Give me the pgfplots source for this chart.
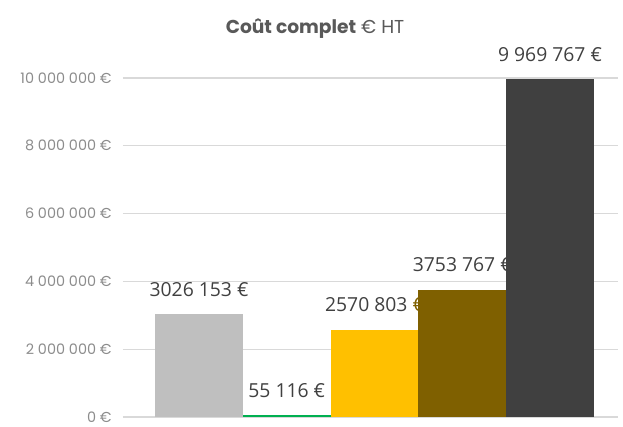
\documentclass[border=0pt]{standalone}
\usepackage{pgfplots}
\pgfplotsset{compat=1.18}
\usepackage{fontspec}
\setmainfont{Open Sans}
\newfontfamily\tickfont{Poppins}
\definecolor{cgray}{HTML}{BFBFBF}
\definecolor{cgreen}{HTML}{00B050}
\definecolor{cyellow}{HTML}{FFC000}
\definecolor{cbrown}{HTML}{7F6000}
\definecolor{cdark}{HTML}{404040}
\definecolor{gridc}{HTML}{D9D9D9}
\definecolor{tickc}{HTML}{8C8C8C}
\definecolor{titlec}{HTML}{595959}
\begin{document}
\begin{tikzpicture}
\begin{axis}[
    scale only axis,
    width=371.25pt,
    height=254.25pt,
    ybar,
    bar width=1,
    bar shift=0pt,
    xmin=-0.866, xmax=4.775,
    ymin=0, ymax=10000000,
    xtick=\empty,
    ytick={0,2000000,4000000,6000000,8000000,10000000},
    yticklabels={0 €,2 000 000 €,4 000 000 €,6 000 000 €,8 000 000 €,10 000 000 €},
    yticklabel style={font=\tickfont\fontsize{10.8}{13}\selectfont, text=tickc, xshift=-5pt},
    scaled y ticks=false,
    axis line style={draw=none},
    major tick style={draw=none},
    ymajorgrids,
    grid style={gridc, line width=0.8pt},
    title={\textbf{Coût complet} € HT},
    title style={font=\tickfont\fontsize{14}{16}\selectfont, text=titlec, at={(0.388,1)}, anchor=center, yshift=31pt},
    nodes near coords style={font=\fontsize{14.5}{16}\selectfont, text=cdark, anchor=base, yshift=13.5pt},
]
% labels partly hidden behind the next bar in the original
\addplot[fill=cgray, draw=none, nodes near coords={3026 153 €}] coordinates {(0,3026153)};
\addplot[fill=cgreen, draw=none, nodes near coords={55 116 €}] coordinates {(1,55116)};
\addplot[fill=cyellow, draw=none, nodes near coords={2570 803 \textcolor{cbrown}{€}}] coordinates {(2,2570803)};
\addplot[fill=cbrown, draw=none, nodes near coords={3753 767 \textcolor{cdark}{€}}] coordinates {(3,3753767)};
\addplot[fill=cdark, draw=none, nodes near coords={9 969 767 €}] coordinates {(4,9969767)};
\end{axis}
\pgfresetboundingbox
\path[use as bounding box] (-92.25pt,-6.75pt) rectangle (375pt,312.75pt);
\end{tikzpicture}
\end{document}
